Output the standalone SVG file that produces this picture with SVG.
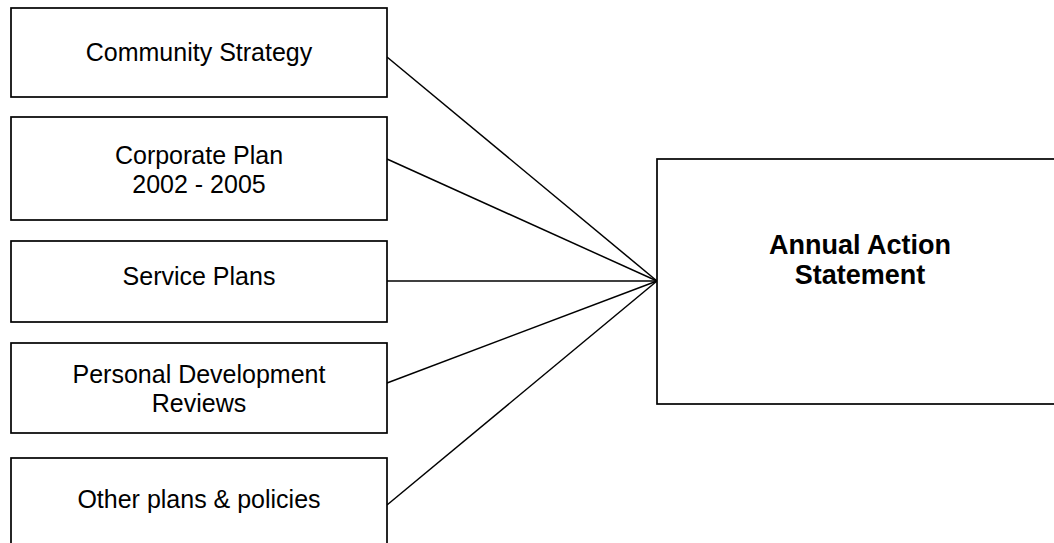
<svg xmlns="http://www.w3.org/2000/svg" width="1054" height="543" viewBox="0 0 1054 543">
<style>
.box{fill:#fff;stroke:#000;stroke-width:1.7}
.t{font-family:"Liberation Sans",Arial,sans-serif;font-size:25px;fill:#000;text-anchor:middle}
.b{font-family:"Liberation Sans",Arial,sans-serif;font-size:27px;font-weight:bold;fill:#000;text-anchor:middle}
.c{stroke:#000;stroke-width:1.5;fill:none}
</style>
<rect width="1054" height="543" fill="#fff"/>
<g id="connectors">
<line class="c" x1="387" y1="57" x2="657" y2="281"/>
<line class="c" x1="387" y1="159" x2="657" y2="281"/>
<line class="c" x1="387" y1="281" x2="657" y2="281"/>
<line class="c" x1="387" y1="383" x2="657" y2="281"/>
<line class="c" x1="387" y1="505" x2="657" y2="281"/>
</g>
<g id="community-strategy">
<rect class="box" x="11" y="8" width="376" height="89"/>
<text class="t" x="199" y="61">Community Strategy</text>
</g>
<g id="corporate-plan">
<rect class="box" x="11" y="117" width="376" height="103"/>
<text class="t" x="199" y="164">Corporate Plan</text>
<text class="t" x="199" y="193">2002 - 2005</text>
</g>
<g id="service-plans">
<rect class="box" x="11" y="241" width="376" height="81"/>
<text class="t" x="199" y="285">Service Plans</text>
</g>
<g id="personal-development">
<rect class="box" x="11" y="343" width="376" height="90"/>
<text class="t" x="199" y="383">Personal Development</text>
<text class="t" x="199" y="412">Reviews</text>
</g>
<g id="other-plans">
<rect class="box" x="11" y="458" width="376" height="100"/>
<text class="t" x="199" y="508">Other plans &amp; policies</text>
</g>
<g id="annual-action-statement">
<rect class="box" x="657" y="159" width="410" height="245"/>
<text class="b" x="860" y="254">Annual Action</text>
<text class="b" x="860" y="284">Statement</text>
</g>
</svg>
